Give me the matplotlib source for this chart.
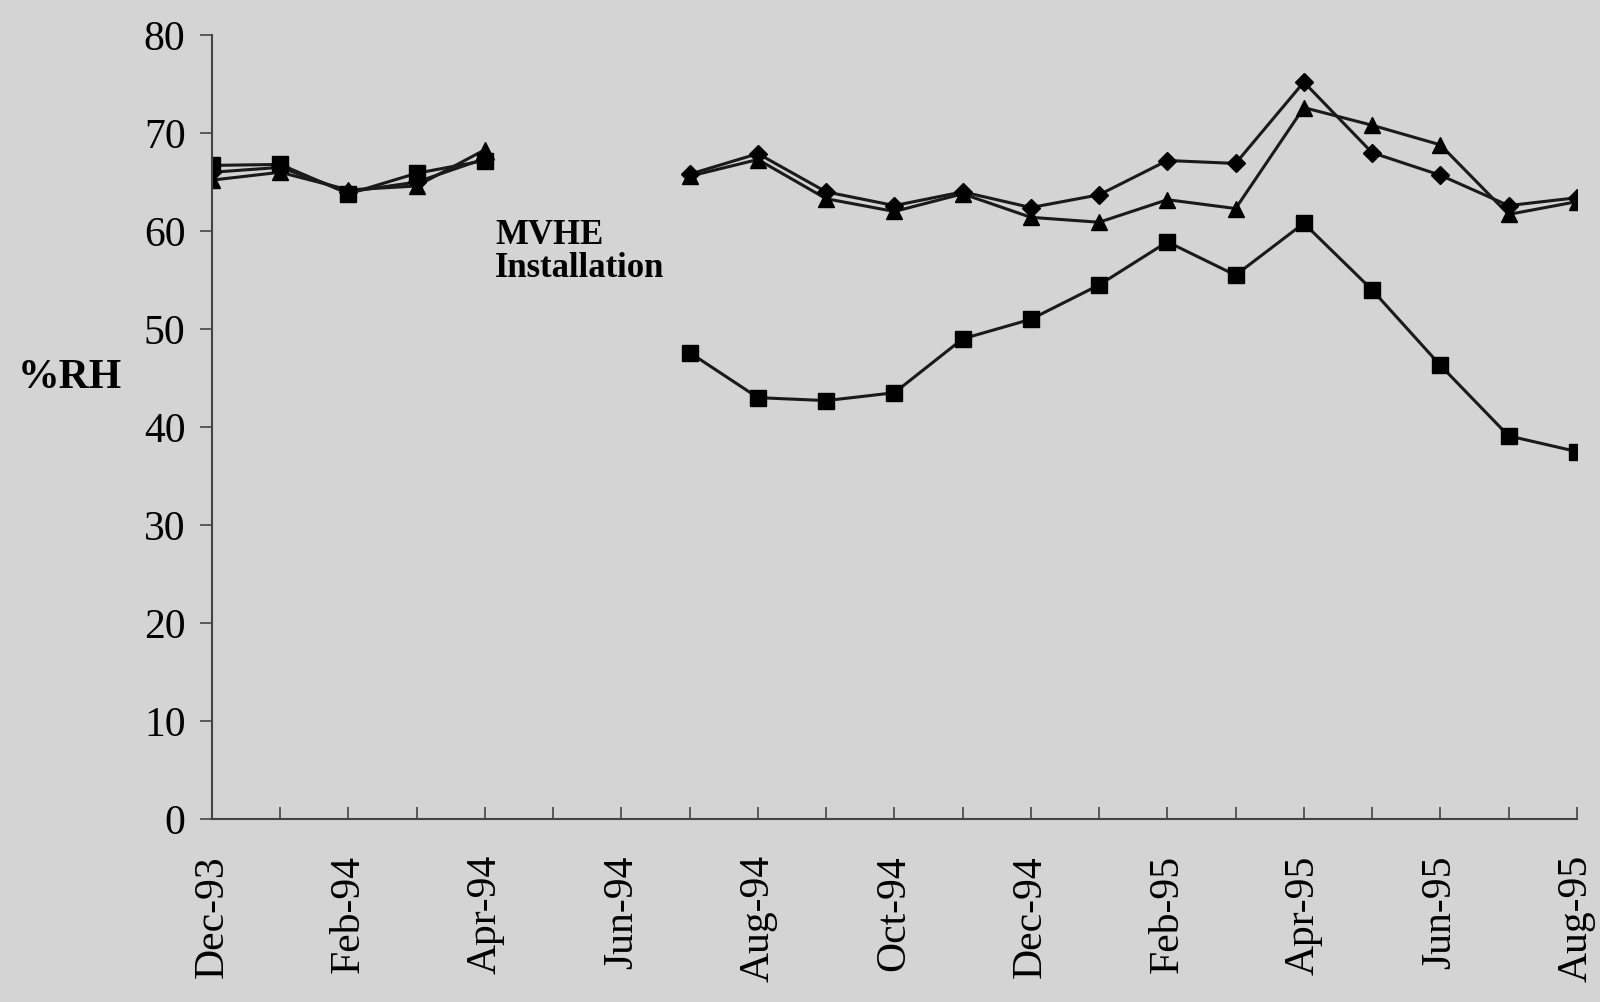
import numpy as np
import matplotlib
matplotlib.use("Agg")
import matplotlib.pyplot as plt

plt.rcParams['font.family'] = ['Liberation Serif', 'DejaVu Serif']

# monthly readings, Dec-93 .. Aug-95 (None = no data during MVHE installation)
months = ['Dec-93', 'Jan-94', 'Feb-94', 'Mar-94', 'Apr-94', 'May-94', 'Jun-94',
          'Jul-94', 'Aug-94', 'Sep-94', 'Oct-94', 'Nov-94', 'Dec-94', 'Jan-95',
          'Feb-95', 'Mar-95', 'Apr-95', 'May-95', 'Jun-95', 'Jul-95', 'Aug-95']
rh_diamond = [66.0, 66.5, 64.0, 65.0, 67.4, None, None,
              65.8, 67.9, 64.0, 62.6, 64.0, 62.4, 63.7,
              67.2, 66.9, 75.2, 68.0, 65.7, 62.6, 63.4]
rh_triangle = [65.2, 66.0, 64.2, 64.6, 68.3, None, None,
               65.6, 67.3, 63.3, 62.0, 63.8, 61.4, 60.9,
               63.2, 62.3, 72.6, 70.8, 68.8, 61.7, 63.0]
rh_square = [66.7, 66.8, 63.8, 65.9, 67.2, None, None,
             47.6, 43.0, 42.7, 43.5, 49.0, 51.0, 54.5,
             58.9, 55.5, 60.8, 54.0, 46.3, 39.1, 37.5]
yticks = [0, 10, 20, 30, 40, 50, 60, 70, 80]

def arr(v):
    return np.array([np.nan if x is None else x for x in v], dtype=float)

bg = '#d4d4d4'
fig = plt.figure(figsize=(16, 10.02), dpi=100, facecolor=bg)
ax = fig.add_axes([0.1325, 0.1826, 0.853, 0.7824], facecolor=bg)

x = np.arange(len(months))
line_kw = dict(color='#1a1a1a', lw=2.2, markerfacecolor='black', markeredgecolor='black')
ax.plot(x, arr(rh_triangle), marker='^', ms=12, **line_kw)
ax.plot(x, arr(rh_diamond), marker='D', ms=9.5, **line_kw)
ax.plot(x, arr(rh_square), marker='s', ms=12, **line_kw)

ax.set_xlim(0, len(months) - 1)
ax.set_ylim(0, 80)
ax.set_yticks(yticks)
ax.set_yticklabels([str(v) for v in yticks], fontsize=30)
ax.set_xticks(x)
ax.set_xticklabels([m if i % 2 == 0 else '' for i, m in enumerate(months)],
                   rotation=90, fontsize=30)

for s in ['top', 'right']:
    ax.spines[s].set_visible(False)
for s in ['left', 'bottom']:
    ax.spines[s].set_color('#444444')
    ax.spines[s].set_linewidth(1.5)
ax.tick_params(axis='y', direction='out', length=9, width=1.2, color='#444444', pad=10)
ax.tick_params(axis='x', direction='in', length=9, width=1.2, color='#444444', pad=26)

ax.text(4.15, 61.2, 'MVHE\nInstallation', fontsize=25, fontweight='bold',
        ha='left', va='top', linespacing=1.0)
fig.text(18 / 1600, 1 - 378 / 1002, '%RH', fontsize=30, fontweight='bold',
         ha='left', va='center')

fig.savefig('out.png', dpi=100, facecolor=bg)
